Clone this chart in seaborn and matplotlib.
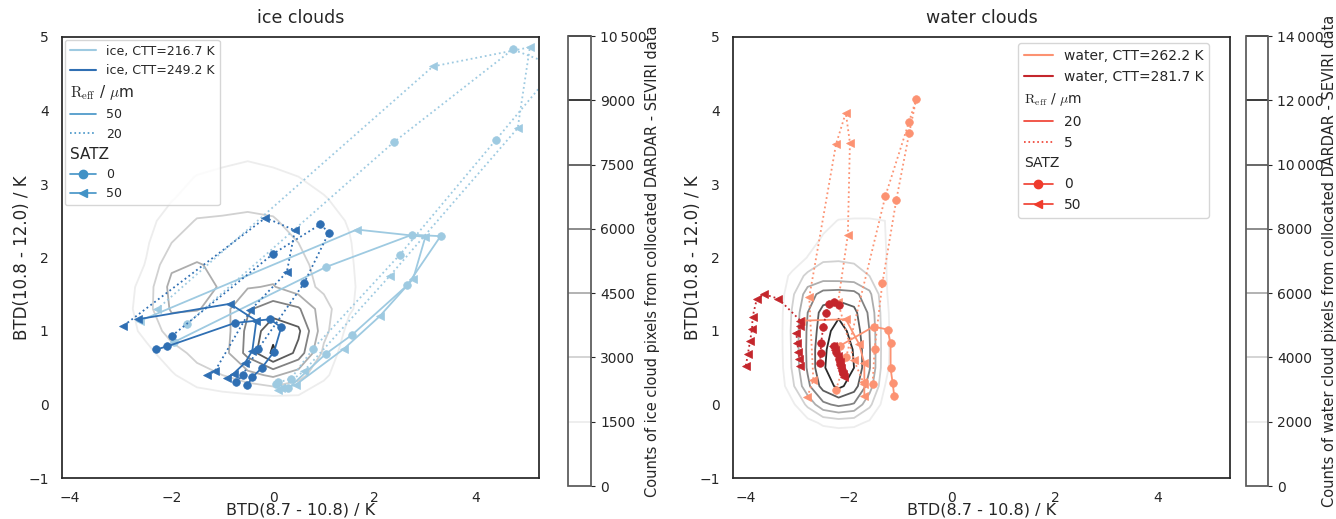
import numpy as np
import pandas as pd
import seaborn as sns
import matplotlib
matplotlib.use('Agg')  # backend setting
import matplotlib.pyplot as plt
from matplotlib.lines import Line2D
from matplotlib.ticker import FuncFormatter

# 2D histogram of collocated DARDAR - SEVIRI pixels (counts in thousands)
ice_grid_x = [-3.5, -3.0, -2.5, -2.0, -1.5, -1.0, -0.5, 0.0, 0.5, 1.0, 1.5, 2.0, 2.5]
ice_grid_y = [-0.2, 0.1, 0.4, 0.7, 1.0, 1.3, 1.6, 1.9, 2.2, 2.5, 2.8, 3.1, 3.4, 3.7]
ice_counts_k = [
    [0, 0, 0, 0, 0, 0, 0, 0, 0, 0, 0, 0, 0],
    [0, 0, 0.1, 0.3, 0.7, 1.0, 1.1, 1.3, 1.3, 0.6, 0.1, 0, 0],
    [0, 0, 0.6, 1.3, 2.5, 3.0, 4.0, 4.8, 3.6, 1.8, 0.4, 0, 0],
    [0, 0.1, 1.0, 2.4, 3.4, 3.8, 6.5, 9.3, 7.0, 2.6, 0.6, 0, 0],
    [0, 0.5, 2.0, 3.6, 3.3, 3.6, 6.4, 8.5, 7.8, 3.5, 1.0, 0.2, 0],
    [0, 0.7, 2.4, 4.7, 4.6, 3.9, 5.8, 6.8, 6.2, 3.6, 1.7, 0.5, 0],
    [0, 0.6, 2.2, 5.0, 5.2, 4.3, 4.4, 4.6, 3.6, 2.7, 1.8, 0.6, 0],
    [0, 0.3, 1.6, 4.2, 4.6, 4.2, 4.0, 3.8, 3.3, 2.6, 1.7, 0.6, 0],
    [0, 0.2, 1.3, 3.0, 3.8, 3.8, 3.7, 3.5, 3.0, 2.4, 1.6, 0.5, 0],
    [0, 0, 1.0, 2.2, 3.1, 3.15, 3.2, 3.1, 2.6, 2.0, 1.4, 0.2, 0],
    [0, 0, 0.4, 1.4, 2.2, 2.5, 2.7, 2.6, 2.2, 1.7, 0.5, 0, 0],
    [0, 0, 0, 0.6, 1.6, 2.0, 2.2, 2.0, 1.5, 0.6, 0, 0, 0],
    [0, 0, 0, 0, 0.3, 0.8, 1.2, 0.8, 0.2, 0, 0, 0, 0],
    [0, 0, 0, 0, 0, 0, 0, 0, 0, 0, 0, 0, 0],
]

water_grid_x = [-3.7, -3.4, -3.1, -2.8, -2.5, -2.2, -1.9, -1.6, -1.3, -1.0, -0.7]
water_grid_y = [-0.5, -0.25, 0.0, 0.25, 0.5, 0.75, 1.0, 1.25, 1.5, 1.75, 2.0, 2.25, 2.5, 2.75]
water_counts_k = [
    [0, 0, 0, 0, 0, 0, 0, 0, 0, 0, 0],
    [0, 0, 0.2, 1.2, 2.4, 2.8, 2.6, 1.6, 0.3, 0, 0],
    [0, 0, 1.5, 4.5, 7.5, 8.5, 7.8, 4.5, 1.0, 0, 0],
    [0, 0.3, 3.5, 7.5, 10.8, 12.5, 11.0, 7.0, 2.0, 0.3, 0],
    [0, 0.5, 4.2, 8.3, 11.8, 13.2, 12.0, 8.2, 2.5, 0.5, 0],
    [0, 0.6, 4.3, 8.4, 11.7, 13.0, 11.9, 8.2, 2.6, 0.5, 0],
    [0, 0.6, 4.4, 8.3, 11.2, 12.8, 11.3, 8.0, 2.6, 0.5, 0],
    [0, 0.6, 4.2, 8.0, 10.8, 11.6, 10.6, 7.6, 2.5, 0.5, 0],
    [0, 0.5, 3.6, 7.0, 8.8, 9.0, 8.7, 6.5, 2.3, 0.4, 0],
    [0, 0.3, 2.6, 4.5, 4.9, 4.8, 4.6, 4.0, 2.2, 0.3, 0],
    [0, 0, 0.3, 2.1, 3.7, 3.8, 3.7, 3.3, 2.2, 0.2, 0],
    [0, 0, 0, 0.8, 2.3, 3.0, 3.0, 2.8, 2.1, 0.1, 0],
    [0, 0, 0, 0.2, 1.2, 2.1, 2.2, 2.2, 2.0, 0, 0],
    [0, 0, 0, 0, 0.2, 0.5, 0.6, 0.6, 0.4, 0, 0],
]

# simulated BTD trajectories: (BTD(8.7-10.8), BTD(10.8-12.0)) along optical thickness
ice_216_r50_satz0 = [(0.05, 0.28), (0.3, 0.22), (1.04, 0.69), (1.56, 0.95), (2.64, 1.62),
                     (3.3, 2.29), (2.74, 2.31), (1.04, 1.87), (-1.95, 0.85)]
ice_216_r50_satz50 = [(0.1, 0.2), (0.45, 0.27), (1.4, 0.76), (2.1, 1.2), (2.76, 1.71),
                      (3.0, 2.28), (1.65, 2.38), (-2.62, 1.14)]
ice_216_r20_satz0 = [(0.1, 0.3), (0.35, 0.35), (0.79, 0.76), (2.5, 2.04), (4.39, 3.6),
                     (5.6, 4.6), (4.72, 4.83), (2.38, 3.57), (-1.69, 1.1)]
ice_216_r20_satz50 = [(0.15, 0.22), (0.6, 0.45), (2.3, 1.75), (4.82, 3.76), (5.06, 4.86),
                      (3.15, 4.6), (-2.28, 1.3)]
ice_249_r50_satz0 = [(-0.51, 0.26), (-0.41, 0.37), (-0.22, 0.5), (0.02, 0.72), (0.16, 1.05),
                     (-0.06, 1.16), (-0.75, 1.11), (-2.09, 0.79), (-2.3, 0.75)]
ice_249_r50_satz50 = [(-0.9, 0.36), (-0.78, 0.42), (-0.55, 0.57), (-0.41, 0.73), (-0.33, 1.14),
                      (-0.85, 1.37), (-2.66, 1.16)]
ice_249_r20_satz0 = [(-0.73, 0.3), (-0.6, 0.4), (-0.3, 0.75), (0.61, 1.65), (1.1, 2.34),
                     (0.93, 2.45), (0.0, 2.05), (-2.0, 0.93)]
ice_249_r20_satz50 = [(-1.3, 0.4), (-1.15, 0.45), (-0.45, 1.28), (0.27, 1.8), (0.43, 2.37),
                      (-0.15, 2.54), (-2.95, 1.07)]

water_262_r20_satz0 = [(-1.12, 0.12), (-1.15, 0.29), (-1.19, 0.49), (-1.19, 0.83), (-1.25, 1.02),
                       (-1.52, 1.06), (-2.17, 0.8)]
water_262_r20_satz50 = [(-1.7, 0.12), (-1.7, 0.28), (-1.7, 0.56), (-1.8, 0.82), (-2.06, 1.16),
                        (-2.92, 1.14)]
water_262_r5_satz0 = [(-2.25, 0.2), (-2.05, 0.65), (-1.29, 2.84), (-0.83, 3.85), (-0.69, 4.16),
                      (-0.83, 3.69), (-1.08, 2.78), (-1.35, 1.65), (-1.5, 0.76), (-1.54, 0.28)]
water_262_r5_satz50 = [(-2.81, 0.1), (-2.69, 0.33), (-2.77, 1.46), (-2.25, 3.54), (-2.06, 3.97),
                       (-1.98, 3.56), (-2.02, 2.31), (-2.21, 1.39), (-1.9, 0.6), (-1.72, 0.3)]
water_281_r20_satz0 = [(-2.12, 0.43), (-2.13, 0.47), (-2.17, 0.55), (-2.2, 0.62), (-2.25, 0.72),
                       (-2.29, 0.8)]
water_281_r20_satz50 = [(-2.1, 0.37), (-2.12, 0.42), (-2.15, 0.5), (-2.18, 0.58), (-2.22, 0.66),
                        (-2.26, 0.74), (-2.3, 0.8)]
water_281_r5_satz0 = [(-2.56, 0.56), (-2.55, 0.7), (-2.54, 0.83), (-2.5, 1.05), (-2.44, 1.24),
                      (-2.38, 1.37), (-2.29, 1.39), (-2.19, 1.35)]
water_281_r5_satz50 = [(-2.94, 0.52), (-2.96, 0.62), (-2.98, 0.72), (-3.0, 0.83), (-3.02, 0.97),
                       (-2.94, 1.07), (-2.94, 1.14), (-3.37, 1.44), (-3.65, 1.5), (-3.79, 1.43),
                       (-3.87, 1.19), (-3.88, 1.03), (-3.92, 0.86), (-3.96, 0.69), (-4.0, 0.53)]

ice_ctt_labels = ['ice, CTT=216.7 K', 'ice, CTT=249.2 K']
water_ctt_labels = ['water, CTT=262.2 K', 'water, CTT=281.7 K']
ice_reff_labels = ['50', '20']
water_reff_labels = ['20', '5']
satz_labels = ['0', '50']

ice_colors = ['#9ecae1', '#2f6fb3']
ice_key = '#4292c6'
water_colors = ['#fc9272', '#c4262c']
water_key = '#ef3b2c'

sns.set_theme(style='white')
plt.rcParams['font.family'] = ['DejaVu Sans']
plt.rcParams['mathtext.fontset'] = 'cm'

W, H = 1336, 519
fig = plt.figure(figsize=(W / 100, H / 100), dpi=100)


def add_px_axes(x0, y0, x1, y1):
    return fig.add_axes([x0 / W, 1 - y1 / H, (x1 - x0) / W, (y1 - y0) / H])


def count_fmt(v, pos):
    s = f'{int(round(v)):,}'
    return s.replace(',', '\u2009') if v >= 10000 else s.replace(',', '')


def draw_trace(ax, pts, color, ls, marker):
    df = pd.DataFrame(pts, columns=['btd_a', 'btd_b'])
    sns.lineplot(data=df, x='btd_a', y='btd_b', sort=False, estimator=None, ax=ax,
                 color=color, linestyle=ls, marker=marker, markersize=5.5,
                 markeredgecolor=color, markeredgewidth=0.5, linewidth=1.3)


def make_legend(ax, ctt_labels, colors, key, reff_labels, size, head_size, **kw):
    blank = Line2D([], [], linestyle='none')
    handles = [Line2D([], [], color=colors[0], lw=1.5), Line2D([], [], color=colors[1], lw=1.5),
               blank, Line2D([], [], color=key, lw=1.2), Line2D([], [], color=key, lw=1.2, ls=':'),
               blank, Line2D([], [], color=key, lw=1.2, marker='o', ms=6),
               Line2D([], [], color=key, lw=1.2, marker='<', ms=6)]
    head_reff = r'$\mathrm{R_{eff}}$ / $\mu$m'
    labels = ctt_labels + [head_reff] + reff_labels + ['SATZ'] + satz_labels
    leg = ax.legend(handles, labels, fontsize=size, handlelength=2.1, frameon=True, **kw)
    heads = [head_reff, 'SATZ']
    for col in leg._legend_handle_box.get_children():
        for row in col.get_children():
            da, ta = row.get_children()
            if ta.get_text() in heads:
                da.set_width(0)
                row.sep = 0
                ta._text.set_fontsize(head_size)
    return leg


def panel(ax, cax, gx, gy, counts, levels, traces, colors, title, cbar_label):
    z = np.array(counts) * 1000
    cs = ax.contour(gx, gy, z, levels=levels, cmap='Greys', linewidths=1.3)
    for pts, ci, ls, mk in traces:
        draw_trace(ax, pts, colors[ci], ls, mk)
    ax.set_ylim(-1, 5)
    ax.set_yticks(range(-1, 6))
    ax.set_xticks([-4, -2, 0, 2, 4])
    ax.set_title(title, fontsize=12.5, pad=10)
    ax.set_xlabel('BTD(8.7 - 10.8) / K', fontsize=11.5, labelpad=-1.8)
    ax.set_ylabel('BTD(10.8 - 12.0) / K', fontsize=12, labelpad=-2)
    ax.tick_params(labelsize=10)
    cb = fig.colorbar(cs, cax=cax)
    cb.set_ticks(levels)
    cb.ax.yaxis.set_major_formatter(FuncFormatter(count_fmt))
    cb.ax.tick_params(labelsize=10, right=True, length=3, width=0.8)
    cb.outline.set_edgecolor('0.35')
    cb.set_label(cbar_label, fontsize=10.5, labelpad=-1)
    return cs


ax_ice = add_px_axes(62, 37, 539, 478)
cax_ice = add_px_axes(568, 36, 591, 486)
ax_water = add_px_axes(733, 37, 1230, 478)
cax_water = add_px_axes(1246, 36, 1268, 486)

ice_traces = [
    (ice_216_r50_satz0, 0, '-', 'o'), (ice_216_r50_satz50, 0, '-', '<'),
    (ice_216_r20_satz0, 0, ':', 'o'), (ice_216_r20_satz50, 0, ':', '<'),
    (ice_249_r50_satz0, 1, '-', 'o'), (ice_249_r50_satz50, 1, '-', '<'),
    (ice_249_r20_satz0, 1, ':', 'o'), (ice_249_r20_satz50, 1, ':', '<'),
]
water_traces = [
    (water_262_r20_satz0, 0, '-', 'o'), (water_262_r20_satz50, 0, '-', '<'),
    (water_262_r5_satz0, 0, ':', 'o'), (water_262_r5_satz50, 0, ':', '<'),
    (water_281_r20_satz0, 1, '-', 'o'), (water_281_r20_satz50, 1, '-', '<'),
    (water_281_r5_satz0, 1, ':', 'o'), (water_281_r5_satz50, 1, ':', '<'),
]

panel(ax_ice, cax_ice, ice_grid_x, ice_grid_y, ice_counts_k, np.arange(0, 10501, 1500),
      ice_traces, ice_colors, 'ice clouds',
      'Counts of ice cloud pixels from collocated DARDAR - SEVIRI data')
ax_ice.set_xlim(-4.16, 5.24)
make_legend(ax_ice, ice_ctt_labels, ice_colors, ice_key, ice_reff_labels, 9, 11,
            loc='upper left', bbox_to_anchor=(0.006, 0.994), borderaxespad=0)

panel(ax_water, cax_water, water_grid_x, water_grid_y, water_counts_k, np.arange(0, 14001, 2000),
      water_traces, water_colors, 'water clouds',
      'Counts of water cloud pixels from collocated DARDAR - SEVIRI data')
ax_water.set_xlim(-4.25, 5.4)
make_legend(ax_water, water_ctt_labels, water_colors, water_key, water_reff_labels, 10, 10,
            loc='upper right', bbox_to_anchor=(0.958, 0.986), borderaxespad=0)

fig.savefig('out.png', dpi=100)
plt.close(fig)
